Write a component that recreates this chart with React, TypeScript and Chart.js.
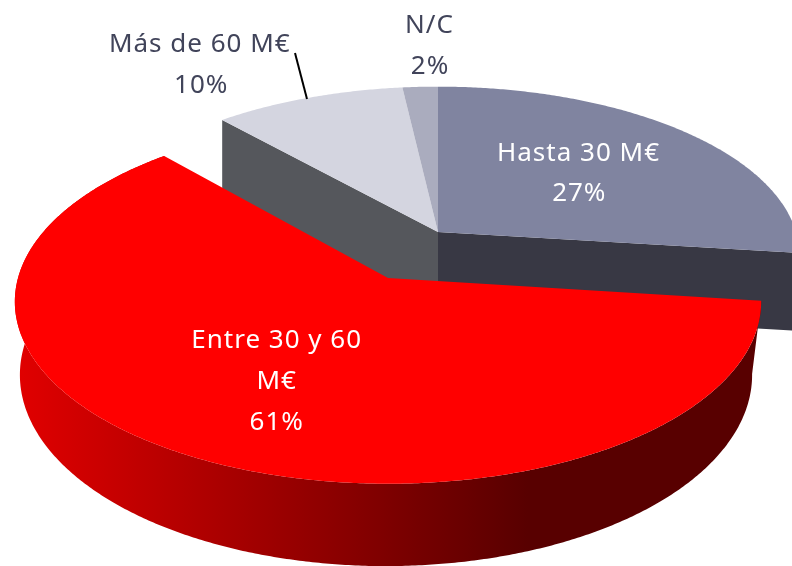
import React, { useEffect, useRef } from "react";
import { Chart, registerables } from "chart.js";

Chart.register(...registerables);

const categories = ["Hasta 30 M€", "Entre 30 y 60 M€", "Más de 60 M€", "N/C"];
const shares = [27, 61.45, 9.75, 1.8];
const topColors = ["#8084a0", "#ff0000", "#d4d5e0", "#aaacbe"];

const labelLines = [
  ["Hasta 30 M€", "27%"],
  ["Entre 30 y 60", "M€", "61%"],
  ["Más de 60 M€", "10%"],
  ["N/C", "2%"],
];
const labelColors = ["#ffffff", "#ffffff", "#41445a", "#41445a"];
const labelAnchors = [
  [[578.5, 160.5], [579.3, 201]],
  [[276.7, 348], [276.7, 389], [276.7, 430]],
  [[199.8, 52], [201.3, 93]],
  [[429.5, 33], [430, 74]],
];

type View = { cx: number; cy: number; rx: number; ry: number; k: number };
const upperTop: View = { cx: 438, cy: 232, rx: 358, ry: 165, k: 0.135 };
const upperLow: View = { cx: 438, cy: 310, rx: 358, ry: 165, k: 0.135 };
const redTop: View = { cx: 388, cy: 278, rx: 370, ry: 179, k: 0.13 };
const redLow: View = { cx: 386, cy: 350, rx: 363, ry: 188, k: 0.13 };
const HASTA = 0, ENTRE = 1, MAS = 2, NC = 3;

function project(v: View, a: number, r = 1) {
  const X = r * Math.cos(a), Y = r * Math.sin(a);
  const d = 1 - v.k * Y;
  return { x: v.cx + (v.rx * X) / d, y: v.cy + (v.ry * Y) / d };
}
function arcPts(v: View, a0: number, a1: number) {
  const n = Math.max(2, Math.ceil(Math.abs(a1 - a0) / 0.008));
  const pts = [];
  for (let i = 0; i <= n; i++) pts.push(project(v, a0 + ((a1 - a0) * i) / n));
  return pts;
}
function fillPoly(ctx: CanvasRenderingContext2D, pts: { x: number; y: number }[], fill: any) {
  ctx.beginPath();
  pts.forEach((p, i) => (i ? ctx.lineTo(p.x, p.y) : ctx.moveTo(p.x, p.y)));
  ctx.closePath();
  ctx.fillStyle = fill;
  ctx.fill();
}

const pie3d = {
  id: "pie3d",
  beforeDatasetDraw() {
    return false;
  },
  afterDatasetsDraw(chart: any) {
    const ctx: CanvasRenderingContext2D = chart.ctx;
    const arcs = chart.getDatasetMeta(0).data;
    const colors = chart.data.datasets[0].backgroundColor;
    const centre = (v: View) => ({ x: v.cx, y: v.cy });

    ctx.save();
    // cut faces of the pie behind the pulled-out slice
    const masStart = arcs[MAS].startAngle;
    fillPoly(ctx, [centre(upperTop), project(upperTop, masStart), project(upperLow, masStart), centre(upperLow)], "#55575c");
    const hastaEnd = arcs[HASTA].endAngle;
    fillPoly(ctx, [centre(upperTop), project(upperTop, hastaEnd), project(upperLow, hastaEnd), centre(upperLow)], "#383844");

    // top faces of the pie
    [HASTA, MAS, NC].forEach((i) => {
      const a = arcs[i];
      fillPoly(ctx, [centre(upperTop), ...arcPts(upperTop, a.startAngle, a.endAngle)], colors[i]);
    });

    // pulled-out slice: side wall then top
    const e = arcs[ENTRE];
    const grad = ctx.createLinearGradient(20, 0, 528, 0);
    grad.addColorStop(0, "#e00000");
    grad.addColorStop(1, "#580000");
    fillPoly(
      ctx,
      [...arcPts(redTop, e.startAngle, e.endAngle), ...arcPts(redLow, e.startAngle, e.endAngle).reverse()],
      grad
    );
    fillPoly(ctx, [centre(redTop), ...arcPts(redTop, e.startAngle, e.endAngle)], colors[ENTRE]);

    // leader line
    ctx.beginPath();
    ctx.moveTo(295, 53);
    ctx.lineTo(307, 99);
    ctx.strokeStyle = "#000000";
    ctx.lineWidth = 2;
    ctx.stroke();

    // labels
    ctx.font = '26px "Noto Sans"';
    (ctx as any).letterSpacing = "1px";
    ctx.textAlign = "center";
    ctx.textBaseline = "alphabetic";
    labelLines.forEach((lines, i) => {
      ctx.fillStyle = labelColors[i];
      lines.forEach((t, j) => ctx.fillText(t, labelAnchors[i][j][0], labelAnchors[i][j][1]));
    });
    ctx.restore();
  },
};

export default function App() {
  const ref = useRef<HTMLCanvasElement>(null);
  useEffect(() => {
    document.body.style.margin = "0";
    const chart = new Chart(ref.current!, {
      type: "pie",
      data: {
        labels: categories,
        datasets: [{ data: shares, backgroundColor: topColors, borderWidth: 0 }],
      },
      options: {
        animation: false,
        responsive: false,
        plugins: { legend: { display: false }, tooltip: { enabled: false } },
      },
      plugins: [pie3d],
    } as any);
    return () => chart.destroy();
  }, []);
  return <canvas ref={ref} width={792} height={566} style={{ display: "block" }} />;
}
